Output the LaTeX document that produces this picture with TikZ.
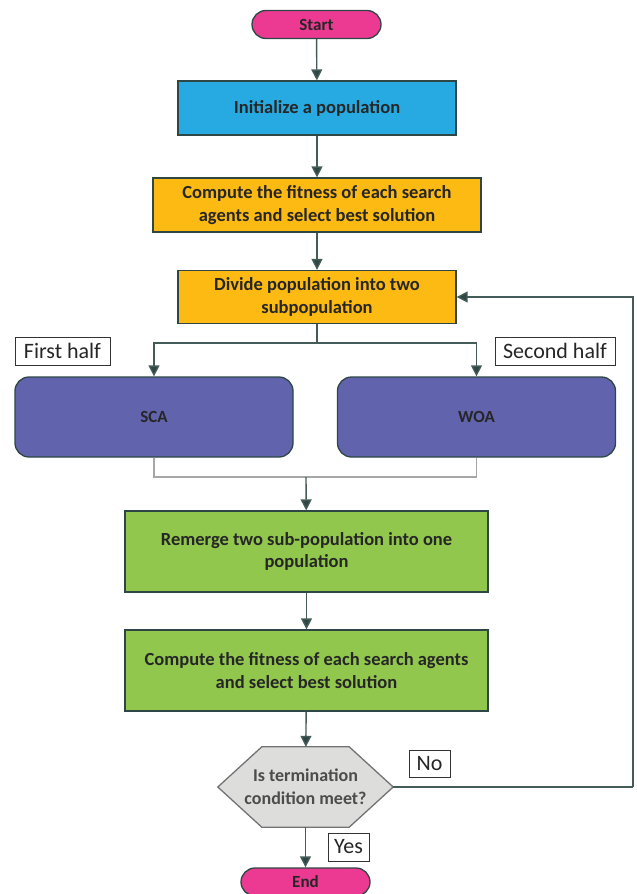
\documentclass[tikz,border=0pt]{standalone}
\usepackage{fontspec}
\setmainfont{Carlito}
\usetikzlibrary{arrows.meta,shapes.misc,backgrounds,positioning}

\definecolor{edgecol}{HTML}{2E4745}
\definecolor{arrowcol}{HTML}{455B58}
\definecolor{termcol}{HTML}{EC3A93}
\definecolor{initcol}{HTML}{27AAE1}
\definecolor{gold}{HTML}{FCBA12}
\definecolor{slate}{HTML}{6163AD}
\definecolor{leaf}{HTML}{92C74E}
\definecolor{stone}{HTML}{DDDDDC}

\begin{document}
\begin{tikzpicture}[x=1pt,y=-1pt,
            every node/.style={inner sep=2pt, align=center},
            box/.style={draw=edgecol, line width=1.3pt, text=black!85,
                        font=\bfseries\fontsize{18.5}{22.5}\selectfont},
            term/.style={box, rounded rectangle, fill=termcol,
                         minimum width=133pt, minimum height=28pt,
                         font=\bfseries\fontsize{17}{20}\selectfont},
            proc/.style={box, rectangle, minimum height=54pt},
            algo/.style={box, rounded corners=14pt, fill=slate,
                         minimum width=278pt, minimum height=80pt,
                         font=\bfseries\fontsize{17}{20}\selectfont},
            tag/.style={draw=black!80, line width=0.9pt, fill=white, inner sep=1pt,
                        font=\fontsize{22}{24}\selectfont, text=black!85},
            arr/.style={draw=arrowcol, line width=1.4pt,
                        -{Triangle[length=11pt,width=11pt,fill=edgecol]}},
            link/.style={draw=arrowcol, line width=1.4pt},
            faint/.style={draw=black!35, line width=1.3pt},
            ]
    \useasboundingbox (0,0) rectangle (637,894);

    \node[term] (start) at (316.5,24.5) {Start};
    \node[proc, fill=initcol, minimum width=278pt] (init) at (317,108) {Initialize a population};
    \node[proc, fill=gold, minimum width=328pt] (fitA) at (317,205)
        {Compute the fitness of each search\\agents and select best solution};
    \node[proc, fill=gold, minimum width=278pt, minimum height=53pt] (divide) at (317,297)
        {Divide population into two\\subpopulation};

    \node[tag, minimum width=95pt, minimum height=28pt] (first) at (62.5,351) {First half};
    \node[tag, minimum width=120pt, minimum height=28pt] (second) at (555,351) {Second half};

    \node[algo] (sca) at (154,417) {SCA};
    \node[algo] (woa) at (476.5,417) {WOA};

    \node[proc, fill=leaf, minimum width=363pt, minimum height=81pt] (remerge) at (306.5,551.5)
        {Remerge two sub-population into one\\population};
    \node[proc, fill=leaf, minimum width=363pt, minimum height=81pt] (fitB) at (306.5,670.5)
        {Compute the fitness of each search agents\\and select best solution};

    \node[minimum width=175pt, minimum height=80pt, inner sep=0pt,
          font=\bfseries\fontsize{18}{23}\selectfont, text=black!70] (check) at (305.5,787)
        {Is termination\\condition meet?};
    % hexagon drawn behind the decision text
    \begin{scope}[on background layer]
        \draw[draw=black!55, line width=1.3pt, fill=stone]
            (check.west) -- ([xshift=44pt]check.north west) -- ([xshift=-44pt]check.north east)
            -- (check.east) -- ([xshift=-44pt]check.south east) -- ([xshift=44pt]check.south west)
            -- cycle;
    \end{scope}

    \node[tag, minimum width=41pt, minimum height=27pt] (no) at (429.5,763.5) {No};
    \node[tag, minimum width=41pt, minimum height=28pt] (yes) at (348.5,847) {Yes};

    \node[term] (end) at (305.5,882) {End};

    \coordinate (split) at (317,343);
    \coordinate (joint) at (306,477);
    \coordinate (back) at (633,787);

    \draw[arr] (start) -- (init);
    \draw[arr] (init) -- (fitA);
    \draw[arr] (fitA) -- (divide);
    \draw[link] (divide) -- (split);
    \draw[arr] (split) -| (sca);
    \draw[arr] (split) -| (woa);
    \draw[faint] (sca.south) |- (joint) -| (woa.south);
    \draw[arr] (joint) -- (remerge);
    \draw[arr] (remerge) -- (fitB);
    \draw[arr] (fitB) -- (check);
    \draw[arr] (check) -- (end);
    \draw[link] (check.east) -- (back);
    \draw[arr] (back) |- (divide);
\end{tikzpicture}
\end{document}
